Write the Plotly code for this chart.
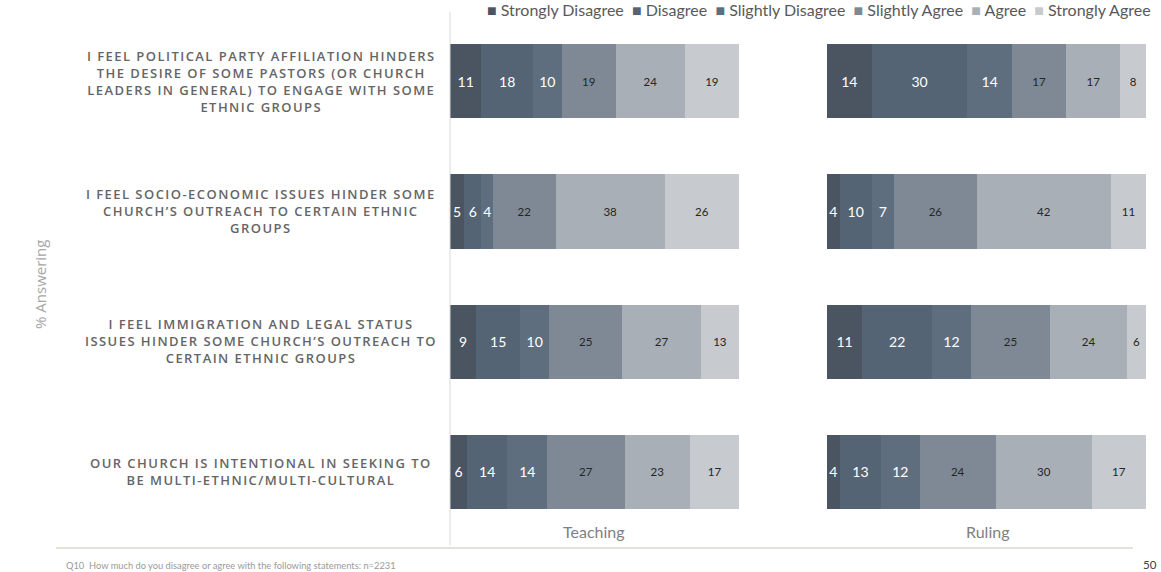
import plotly.graph_objects as go
from plotly.subplots import make_subplots

W, H = 1161, 572

statements = [
    "I FEEL POLITICAL PARTY AFFILIATION HINDERS<br>THE DESIRE OF SOME PASTORS (OR CHURCH<br>LEADERS IN GENERAL) TO ENGAGE WITH SOME<br>ETHNIC GROUPS",
    "I FEEL SOCIO-ECONOMIC ISSUES HINDER SOME<br>CHURCH\u2019S OUTREACH TO CERTAIN ETHNIC<br>GROUPS",
    "I FEEL IMMIGRATION AND LEGAL STATUS<br>ISSUES HINDER SOME CHURCH\u2019S OUTREACH TO<br>CERTAIN ETHNIC GROUPS",
    "OUR CHURCH IS INTENTIONAL IN SEEKING TO<br>BE MULTI-ETHNIC/MULTI-CULTURAL",
]
category_ids = ["Q1", "Q2", "Q3", "Q4"]

series_names = ["Strongly Disagree", "Disagree", "Slightly Disagree",
                "Slightly Agree", "Agree", "Strongly Agree"]
series_colors = ["#4b5562", "#556474", "#5f6e7f", "#7f8995", "#a9afb7", "#c7cacf"]
text_colors = ["#ffffff", "#ffffff", "#ffffff", "#262626", "#262626", "#262626"]
text_sizes = [14, 14, 14, 11.5, 11.5, 11.5]

teaching = {
    "Strongly Disagree": [11, 5, 9, 6],
    "Disagree":          [18, 6, 15, 14],
    "Slightly Disagree": [10, 4, 10, 14],
    "Slightly Agree":    [19, 22, 25, 27],
    "Agree":             [24, 38, 27, 23],
    "Strongly Agree":    [19, 26, 13, 17],
}
ruling = {
    "Strongly Disagree": [14, 4, 11, 4],
    "Disagree":          [30, 10, 22, 13],
    "Slightly Disagree": [14, 7, 12, 12],
    "Slightly Agree":    [17, 26, 25, 24],
    "Agree":             [17, 42, 24, 30],
    "Strongly Agree":    [8, 11, 6, 17],
}
panels = ["Teaching", "Ruling"]

fig = make_subplots(rows=1, cols=2, shared_yaxes=False)

for col, data in enumerate([teaching, ruling], start=1):
    for i, name in enumerate(series_names):
        vals = data[name]
        fig.add_trace(go.Bar(
            x=vals, y=category_ids, orientation="h", name=name,
            marker=dict(color=series_colors[i], line=dict(width=0)),
            text=[str(v) for v in vals], texttemplate="%{text}",
            textposition="inside", insidetextanchor="middle", textangle=0,
            constraintext="none",
            textfont=dict(color=text_colors[i], size=text_sizes[i], family="Lato"),
            showlegend=False, hoverinfo="x+name",
        ), row=1, col=col)

PLOT_TOP, PLOT_BOT = 16, 537   # screen px
plot_h = PLOT_BOT - PLOT_TOP

def px_x(p):
    return p / W

def px_y(p):
    return (PLOT_BOT - p) / plot_h

fig.update_layout(
    width=W, height=H, autosize=False,
    barmode="stack", barnorm="percent", bargap=0.43,
    margin=dict(l=0, r=0, t=PLOT_TOP, b=H - PLOT_BOT),
    plot_bgcolor="white", paper_bgcolor="white",
    showlegend=False,
    xaxis=dict(domain=[px_x(450), px_x(739)], range=[0, 100], visible=False, fixedrange=True),
    xaxis2=dict(domain=[px_x(827), px_x(1146)], range=[0, 100], visible=False, fixedrange=True),
    yaxis=dict(autorange="reversed", visible=False, categoryorder="array", categoryarray=category_ids),
    yaxis2=dict(autorange="reversed", visible=False, categoryorder="array", categoryarray=category_ids),
)

annotations = []
row_centers = [81, 211, 341, 471]
for txt, yc in zip(statements, row_centers):
    styled = "<br>".join(f"<span style='letter-spacing:1.45px'>{ln}</span>" for ln in txt.split("<br>"))
    annotations.append(dict(
        text=styled, x=px_x(261), y=px_y(yc), xref="paper", yref="paper",
        xanchor="center", yanchor="middle", align="center", showarrow=False,
        font=dict(family="Open Sans", size=13, color="#656565", weight=600),
    ))

legend_parts = []
for name, c in zip(series_names, series_colors):
    legend_parts.append(f"<span style='color:{c}'>\u25A0</span> {name}")
annotations.append(dict(
    text="  ".join(legend_parts), x=px_x(1153), y=px_y(10),
    xref="paper", yref="paper", xanchor="right", yanchor="middle",
    showarrow=False, font=dict(family="Lato", size=16, color="#595959"),
))

for name, cx in zip(panels, [594, 987]):
    annotations.append(dict(
        text=name, x=px_x(cx), y=px_y(531), xref="paper", yref="paper",
        xanchor="center", yanchor="middle", showarrow=False,
        font=dict(family="Lato", size=16, color="#7f7f7f"),
    ))

annotations.append(dict(
    text="% Answering", x=px_x(40), y=px_y(285), xref="paper", yref="paper",
    xanchor="center", yanchor="middle", textangle=-90, showarrow=False,
    font=dict(family="Open Sans", size=15, color="#a6a6a6"),
))
annotations.append(dict(
    text="Q10  How much do you disagree or agree with the following statements: n=2231",
    x=px_x(64), y=px_y(565), xref="paper", yref="paper",
    xanchor="left", yanchor="middle", showarrow=False,
    font=dict(family="Lato", size=9.3, color="#9a9a9a"),
))
annotations.append(dict(
    text="50", x=px_x(1159), y=px_y(564), xref="paper", yref="paper",
    xanchor="right", yanchor="middle", showarrow=False,
    font=dict(family="Lato", size=11.5, color="#404040"),
))
fig.update_layout(annotations=annotations)

fig.update_layout(shapes=[
    dict(type="line", xref="paper", yref="paper", x0=px_x(450), x1=px_x(450),
         y0=px_y(12), y1=px_y(545), line=dict(color="#d9d9d9", width=1)),
    dict(type="line", xref="paper", yref="paper", x0=px_x(56), x1=px_x(1133),
         y0=px_y(548), y1=px_y(548), line=dict(color="#d8dbc9", width=1.5)),
])

fig.write_html(
    "out.html",
    config={"displayModeBar": False},
    post_script="document.body.style.margin='0';document.body.style.overflow='hidden';",
)
